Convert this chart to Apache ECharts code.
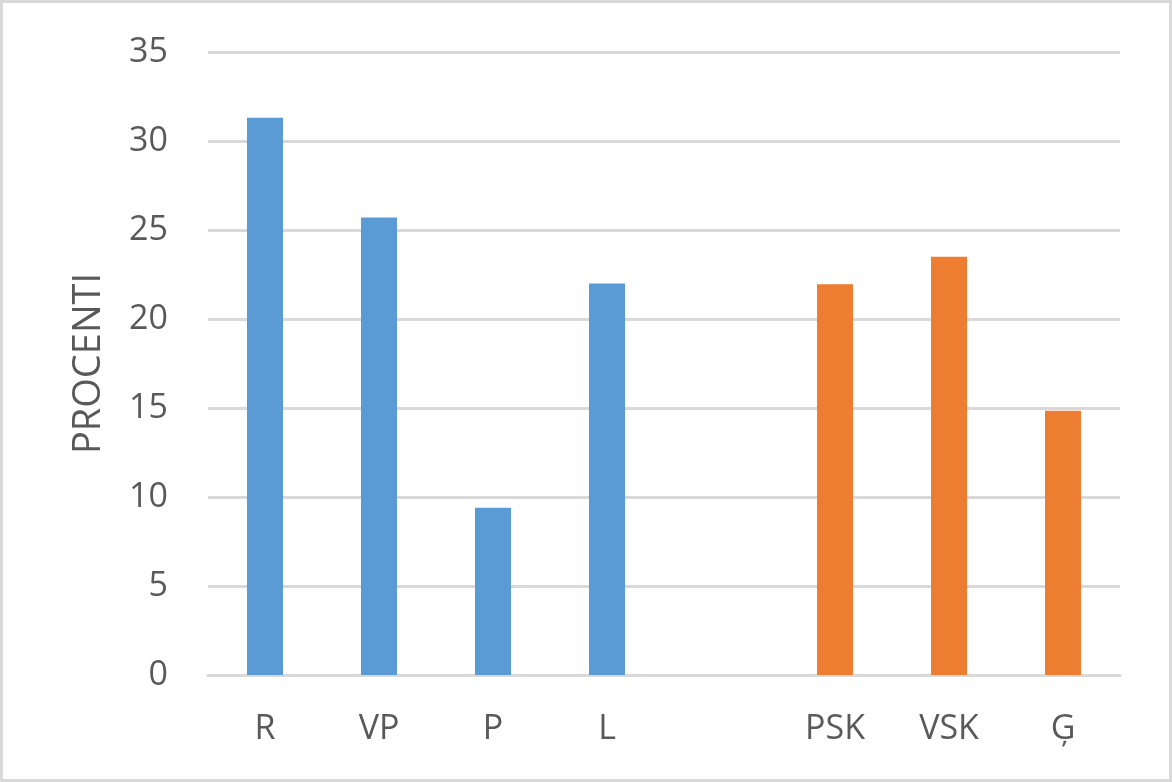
<!DOCTYPE html>
<html>
<head>
<meta charset="utf-8">
<script src="https://cdn.jsdelivr.net/npm/echarts@6/dist/echarts.min.js"></script>
<style>
html,body{margin:0;padding:0;background:#fff;}
#wrap{width:1172px;height:782px;box-sizing:border-box;border:3px solid #d9d9d9;position:relative;}
#c{position:absolute;left:-3px;top:-3px;width:1172px;height:782px;}
</style>
</head>
<body>
<div id="wrap"><div id="c"></div></div>
<script>
const categories = ['R', 'VP', 'P', 'L', '', 'PSK', 'VSK', 'Ģ'];
const blueValues = [31.3, 25.7, 9.4, 22.0, '-', '-', '-', '-'];
const orangeValues = ['-', '-', '-', '-', '-', 21.95, 23.5, 14.85];
const yTicks = [0, 5, 10, 15, 20, 25, 30, 35];
const yAxisName = 'PROCENTI';

const textColor = '#595959';
const fontFam = '"Open Sans", "Noto Sans", sans-serif';
const chart = echarts.init(document.getElementById('c'));
chart.setOption({
  animation: false,
  grid: {left: 208, right: 52, top: 52, bottom: 107},
  xAxis: {
    type: 'category',
    data: categories,
    axisLine: {lineStyle: {color: '#d9d9d9', width: 3}},
    axisTick: {show: false},
    axisLabel: {color: textColor, fontSize: 34, fontFamily: fontFam, margin: 37}
  },
  yAxis: {
    type: 'value',
    min: yTicks[0],
    max: yTicks[yTicks.length - 1],
    interval: 5,
    name: yAxisName,
    nameLocation: 'middle',
    nameGap: 100,
    nameTextStyle: {color: textColor, fontSize: 38, fontFamily: fontFam},
    axisLine: {show: false},
    axisTick: {show: false},
    axisLabel: {color: textColor, fontSize: 34, fontFamily: fontFam, margin: 40},
    splitLine: {lineStyle: {color: '#d9d9d9', width: 3}}
  },
  series: [
    {type: 'bar', stack: 's', data: blueValues, barWidth: 36, itemStyle: {color: '#5B9BD5'}},
    {type: 'bar', stack: 's', data: orangeValues, barWidth: 36, itemStyle: {color: '#ED7D31'}}
  ]
});
</script>
</body>
</html>
